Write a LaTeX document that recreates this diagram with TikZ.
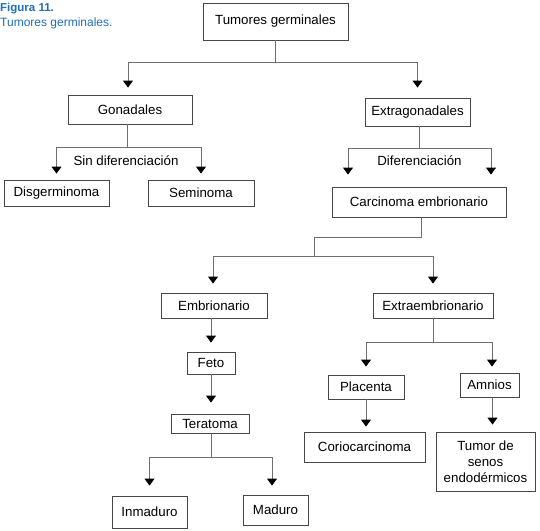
\documentclass[tikz,border=0pt]{standalone}
\usepackage{fontspec}
\setmainfont{Liberation Sans}
\usetikzlibrary{arrows.meta}
\definecolor{figblue}{RGB}{30,110,185}
\definecolor{boxline}{RGB}{70,70,70}
\definecolor{connline}{RGB}{110,110,110}
\begin{document}
\begin{tikzpicture}[x=1pt,y=-1pt,
  box/.style={draw=boxline, line width=0.9pt, inner sep=0pt, align=center,
    font=\fontsize{13.3}{16}\selectfont},
  conn/.style={draw=connline, line width=1pt},
  arr/.style={conn, -{Triangle[width=10pt,length=7pt,color=black]}},
  lbl/.style={inner sep=0pt, font=\fontsize{13.3}{16}\selectfont},
  ttl/.style={inner sep=0pt, anchor=base west, text=figblue, font=\fontsize{12}{14}\selectfont}]
\useasboundingbox (0,0) rectangle (540,530);

% title
\node[ttl, font=\fontsize{11.5}{14}\selectfont\bfseries] (fig) at (0,11) {Figura 11.};
\node[ttl] (sub) at (0,26) {Tumores germinales.};

% boxes
\node[box, minimum width=145pt, minimum height=37pt] (tg)   at (275.5,21.5) {Tumores germinales};
\node[box, minimum width=124pt, minimum height=29pt] (gon)  at (130,109.5)  {Gonadales};
\node[box, minimum width=105pt, minimum height=28pt] (ext)  at (417.5,112)  {Extragonadales};
\node[box, minimum width=105pt, minimum height=26pt] (dis)  at (56.5,193)   {Disgerminoma};
\node[box, minimum width=106pt, minimum height=26pt] (sem)  at (201,193)    {Seminoma};
\node[box, minimum width=174pt, minimum height=30pt] (car)  at (419,202)    {Carcinoma embrionario};
\node[box, minimum width=106pt, minimum height=25pt] (emb)  at (214,305.5)  {Embrionario};
\node[box, minimum width=120pt, minimum height=25pt] (extr) at (433,305.5)  {Extraembrionario};
\node[box, minimum width=48pt,  minimum height=22pt] (feto) at (211,363)    {Feto};
\node[box, minimum width=78pt,  minimum height=19pt] (ter)  at (210,423.5)  {Teratoma};
\node[box, minimum width=75pt,  minimum height=32pt] (inm)  at (149.5,512)  {Inmaduro};
\node[box, minimum width=65pt,  minimum height=30pt] (mad)  at (275.5,510)  {Maduro};
\node[box, minimum width=76pt,  minimum height=24pt] (pla)  at (366,387)    {Placenta};
\node[box, minimum width=59pt,  minimum height=24pt] (amn)  at (489.5,385)  {Amnios};
\node[box, minimum width=121pt, minimum height=30pt] (cor)  at (364.5,447)  {Coriocarcinoma};
\node[box, minimum width=99pt,  minimum height=59pt] (tum)  at (485.5,461.5) {Tumor de\\senos\\endodérmicos};

% labels
\node[lbl] (sind) at (126,161) {Sin diferenciación};
\node[lbl] (dif)  at (419.5,161) {Diferenciación};

% connectors: level 1
\coordinate (j1) at (275.5,62);
\draw[conn] (tg.south) -- (j1);
\draw[arr, shorten >=7pt] (j1) -| ([xshift=-2pt]gon.north);
\draw[arr, shorten >=10pt] (j1) -| (ext.north);

% gonadales
\coordinate (j2) at (127,147);
\draw[conn] (gon.south -| j2) -- (j2);
\draw[arr, shorten >=6pt] (j2) -| (dis.north);
\draw[arr, shorten >=6pt] (j2) -| (sem.north);

% extragonadales
\coordinate (j3) at (419,148);
\draw[conn] (ext.south -| j3) -- (j3);
\draw[arr, shorten >=12pt] (j3) -| ([xshift=-71pt]car.north);
\draw[arr, shorten >=12pt] (j3) -| ([xshift=72pt]car.north);

% carcinoma
\coordinate (j4a) at (421,237);
\coordinate (j4b) at (314,237);
\coordinate (j4) at (314,256);
\draw[conn] (car.south -| j4a) -- (j4a) -- (j4b) -- (j4);
\draw[arr, shorten >=9pt] (j4) -| ([xshift=-1pt]emb.north);
\draw[arr, shorten >=9pt] (j4) -| (extr.north);

% embrionario branch
\draw[arr, shorten >=9pt] (emb.south -| feto.north) -- (feto.north);
\draw[arr, shorten >=11pt] (feto.south) -- (feto.south |- ter.north);
\coordinate (j5) at (211,457);
\draw[conn] (ter.south -| j5) -- (j5);
\draw[arr, shorten >=10pt] (j5) -| (inm.north);
\draw[arr, shorten >=9pt] (j5) -| ([xshift=-3.5pt]mad.north);

% extraembrionario branch
\coordinate (j6) at (433,342);
\draw[conn] (extr.south) -- (j6);
\draw[arr, shorten >=8pt] (j6) -| (pla.north);
\draw[arr, shorten >=6pt] (j6) -| ([xshift=2.5pt]amn.north);
\draw[arr, shorten >=5pt] (pla.south) -- (pla.south |- cor.north);
\draw[arr, shorten >=7pt] ([xshift=3pt]amn.south) -- ([xshift=3pt]amn.south |- tum.north);
\end{tikzpicture}
\end{document}
